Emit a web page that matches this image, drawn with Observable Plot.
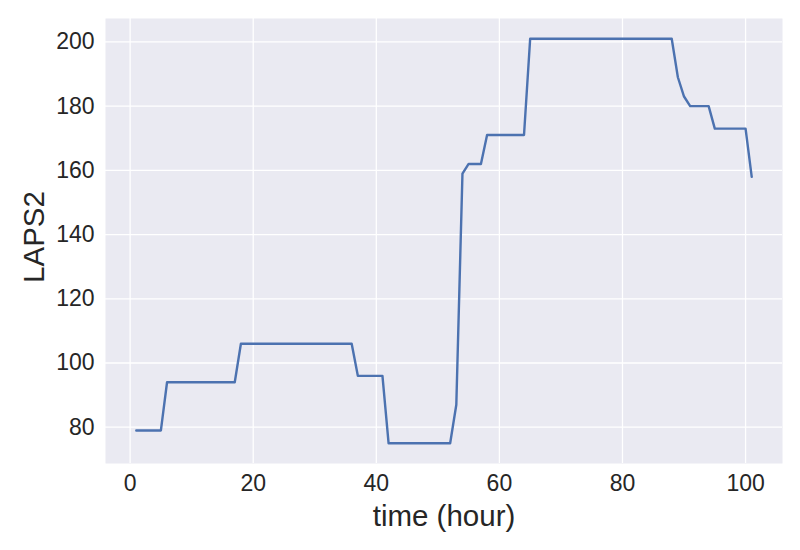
<!DOCTYPE html>
<html>
<head>
<meta charset="utf-8">
<script src="https://cdn.jsdelivr.net/npm/d3@7"></script>
<script src="https://cdn.jsdelivr.net/npm/@observablehq/plot@0.6"></script>
<style>
  html, body { margin: 0; padding: 0; background: #ffffff; }
</style>
</head>
<body>
<div id="chart"></div>
<script>
const hours = [
  1, 2, 3, 4, 5, 6, 7, 8, 9, 10,
  11, 12, 13, 14, 15, 16, 17, 18, 19, 20,
  21, 22, 23, 24, 25, 26, 27, 28, 29, 30,
  31, 32, 33, 34, 35, 36, 37, 38, 39, 40,
  41, 42, 43, 44, 45, 46, 47, 48, 49, 50,
  51, 52, 53, 54, 55, 56, 57, 58, 59, 60,
  61, 62, 63, 64, 65, 66, 67, 68, 69, 70,
  71, 72, 73, 74, 75, 76, 77, 78, 79, 80,
  81, 82, 83, 84, 85, 86, 87, 88, 89, 90,
  91, 92, 93, 94, 95, 96, 97, 98, 99, 100,
  101
];
const laps2 = [
  79, 79, 79, 79, 79, 94, 94, 94, 94, 94,
  94, 94, 94, 94, 94, 94, 94, 106, 106, 106,
  106, 106, 106, 106, 106, 106, 106, 106, 106, 106,
  106, 106, 106, 106, 106, 106, 96, 96, 96, 96,
  96, 75, 75, 75, 75, 75, 75, 75, 75, 75,
  75, 75, 87, 159, 162, 162, 162, 171, 171, 171,
  171, 171, 171, 171, 201, 201, 201, 201, 201, 201,
  201, 201, 201, 201, 201, 201, 201, 201, 201, 201,
  201, 201, 201, 201, 201, 201, 201, 201, 189, 183,
  180, 180, 180, 180, 173, 173, 173, 173, 173, 173,
  158
];
const xTicks = [0, 20, 40, 60, 80, 100];
const yTicks = [80, 100, 120, 140, 160, 180, 200];
const xLabel = "time (hour)";
const yLabel = "LAPS2";

const data = hours.map((h, i) => ({hour: h, laps2: laps2[i]}));

const textColor = "#262626";
const font = "'Liberation Sans', Arial, sans-serif";

const chart = Plot.plot({
  width: 800,
  height: 550,
  marginLeft: 105,
  marginRight: 18,
  marginTop: 18,
  marginBottom: 87,
  style: {background: "#ffffff", fontFamily: font, color: textColor},
  x: {domain: [-4, 106]},
  y: {domain: [68.7, 207.3]},
  marks: [
    Plot.frame({fill: "#EAEAF2", stroke: null}),
    Plot.gridX(xTicks, {stroke: "#ffffff", strokeOpacity: 1, strokeWidth: 1.3}),
    Plot.gridY(yTicks, {stroke: "#ffffff", strokeOpacity: 1, strokeWidth: 1.3}),
    Plot.axisX(xTicks, {tickSize: 0, tickPadding: 11, fontSize: 23, label: null, fill: textColor}),
    Plot.axisY(yTicks, {tickSize: 0, tickPadding: 11, fontSize: 23, label: null, fill: textColor}),
    Plot.line(data, {x: "hour", y: "laps2", stroke: "#4C72B0", strokeWidth: 2.4}),
    Plot.text([xLabel], {frameAnchor: "bottom", textAnchor: "middle", lineAnchor: "middle", dy: 53, fontSize: 29.5, fill: textColor}),
    Plot.text([yLabel], {frameAnchor: "left", textAnchor: "middle", lineAnchor: "middle", dx: -71, dy: -4, rotate: -90, fontSize: 29.5, fill: textColor})
  ]
});

document.getElementById("chart").appendChild(chart);
</script>
</body>
</html>
